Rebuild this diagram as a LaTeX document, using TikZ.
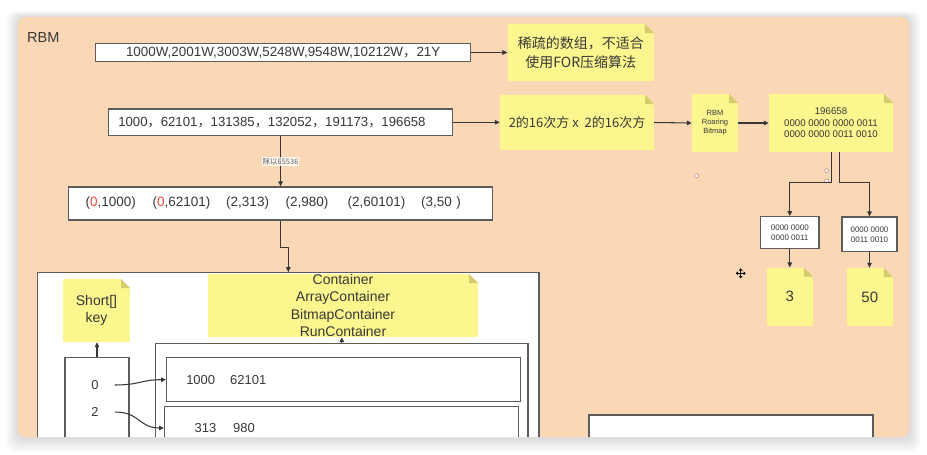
\documentclass[tikz,border=0pt]{standalone}
\usepackage{fontspec}
\setmainfont{Liberation Sans}
\newfontfamily\cjk{Noto Sans CJK SC}
\usetikzlibrary{arrows.meta,calc}
\definecolor{peach}{RGB}{251,216,181}
\definecolor{noteY}{RGB}{251,246,142}
\definecolor{foldY}{RGB}{214,203,110}
\definecolor{linec}{RGB}{92,92,92}
\definecolor{arrc}{RGB}{55,55,55}
\definecolor{txt}{RGB}{56,56,56}
\definecolor{redd}{RGB}{232,70,60}
\definecolor{handlec}{RGB}{196,138,138}
\newcommand\fsz[2]{\fontsize{#1}{#2}\selectfont}
\tikzset{
  box/.style={draw=linec, line width=1.1pt, fill=white, inner sep=0pt, text=txt},
  note/.style={fill=noteY, inner sep=0pt, text=txt, align=center,
    path picture={
      \fill[#1] ([xshift=-9pt]path picture bounding box.north east) -- (path picture bounding box.north east) -- ([yshift=-9pt]path picture bounding box.north east) -- cycle;
      \fill[foldY] ([xshift=-9pt]path picture bounding box.north east) -- ([xshift=-9pt,yshift=-9pt]path picture bounding box.north east) -- ([yshift=-9pt]path picture bounding box.north east) -- cycle;
    }},
  note/.default=peach,
  arr/.style={draw=arrc, line width=1.05pt, -{Triangle[length=5pt,width=4.5pt]}},
  lbl/.style={fill=white, fill opacity=0.85, text opacity=1, text=txt!80, inner sep=1pt, font=\cjk\fsz{7.5pt}{9pt}},
  handle/.style={circle, draw=handlec, fill=white, line width=0.6pt, minimum size=4pt, inner sep=0pt},
  curs/.style={line width=1.1pt, draw=black, {Triangle[length=2.2pt,width=3.6pt]}-{Triangle[length=2.2pt,width=3.6pt]}},
}
\begin{document}
\begin{tikzpicture}[x=1pt,y=-1pt]
\useasboundingbox (0,0) rectangle (927,455);
\fill[white] (0,0) rectangle (927,455);
\foreach \i in {1,...,12}{
  \fill[black,opacity=0.013,rounded corners=9pt] ({18-\i},{17-0.5*\i}) rectangle ({909+\i},{437+1.3*\i});
}
\fill[peach,rounded corners=7pt] (18,17) rectangle (909,437);
\begin{scope}
\clip[rounded corners=7pt] (18,17) rectangle (909,437);

\node[anchor=west, text=txt, inner sep=0pt, font=\fsz{14.5pt}{17pt}] (rbm) at (27,38) {RBM};

\node[box, minimum width=375pt, minimum height=18.4pt, font=\fsz{13.4pt}{16pt}] (b1) at (283.2,52.5) {1000W,2001W,3003W,5248W,9548W,10212W{\cjk ，}21Y};
\node[note, minimum width=146.3pt, minimum height=57pt, font=\cjk\fsz{14pt}{19pt}] (n1) at (580.8,52.5) {稀疏的数组，不适合\\使用FOR压缩算法};

\node[box, anchor=west, minimum height=26.7pt, inner xsep=9.7pt, text width=324.6pt, align=left, font=\fsz{13.2pt}{16pt}] (b2) at (108,122.3) {1000{\cjk ，}62101{\cjk ，}131385{\cjk ，}132052{\cjk ，}191173{\cjk ，}196658};
\node[note, minimum width=154pt, minimum height=55pt, font=\cjk\fsz{13pt}{16pt}] (n2) at (577,122.5) {2的16次方 x\ \ 2的16次方};
\node[note, minimum width=46pt, minimum height=58pt, font=\fsz{7.5pt}{9pt}] (n3) at (715,123) {RBM\\Roaring\\Bitmap};
\node[note, minimum width=124pt, minimum height=58pt, font=\fsz{9.7pt}{11.5pt}] (n4) at (831,123) {196658\\0000 0000 0000 0011\\0000 0000 0011 0010};

\node[box, align=center, minimum width=58.3pt, minimum height=32pt, font=\fsz{8pt}{10pt}] (b5) at (789.8,232.7) {0000 0000\\0000 0011};
\node[box, align=center, minimum width=55pt, minimum height=34.7pt, font=\fsz{8pt}{10pt}] (b6) at (869.5,234.3) {0000 0000\\0011 0010};
\node[note, minimum width=46.3pt, minimum height=58.3pt, font=\fsz{15pt}{18pt}] (n5) at (789.8,296.8) {3};
\node[note, minimum width=46.3pt, minimum height=58pt, font=\fsz{15pt}{18pt}] (n6) at (869.8,297) {50};

\node[handle] (h1) at (696.7,175.7) {};
\node[handle] (h2) at (826.7,170.7) {};
\node[handle] (h3) at (826.7,181) {};

\node[box, anchor=west, minimum height=33pt, inner xsep=16.7pt, text width=390.3pt, align=left, font=\fsz{13.5pt}{16pt}] (b3) at (68.3,203.5) {\makebox[67pt][l]{(\textcolor{redd}{0},1000)}\makebox[73.7pt][l]{(\textcolor{redd}{0},62101)}\makebox[59.3pt][l]{(2,313)}\makebox[62pt][l]{(2,980)}\makebox[73.7pt][l]{(2,60101)}(3,50 )};

\node[box, minimum width=501.3pt, minimum height=207.3pt] (C) at (288.35,376.35) {};
\node[note=white, minimum width=270pt, minimum height=63pt, font=\fsz{14pt}{17.3pt}] (cn) at (343,305.5) {Container\\ArrayContainer\\BitmapContainer\\RunContainer};
\node[note=white, minimum width=67pt, minimum height=63pt, font=\fsz{14pt}{16.5pt}] (sn) at (96.5,310.5) {Short[]\\key};
\node[box, minimum width=64pt, minimum height=122.3pt] (kb) at (97,418.85) {};
\node[box, minimum width=372.3pt, minimum height=136.7pt] (W) at (341.85,411.65) {};
\node[box, anchor=west, minimum height=44pt, inner xsep=19.7pt, text width=314.6pt, align=left, font=\fsz{13pt}{16pt}] (r1) at (166,379.7) {1000\hspace{15pt}62101};
\node[box, anchor=west, minimum height=42.6pt, inner xsep=30pt, text width=294pt, align=left, font=\fsz{13pt}{16pt}] (r2) at (164,428) {313\hspace{17pt}980};
\node[text=txt, inner sep=0pt, font=\fsz{13pt}{16pt}] (k0) at (95,385) {0};
\node[text=txt, inner sep=0pt, font=\fsz{13pt}{16pt}] (k2) at (95,412) {2};
\node[box, minimum width=284pt, minimum height=50pt] (br) at (731,440) {};

\draw[arr] (b1.east) -- (n1.west);
\draw[arr] (b2.east) -- (b2.east -| n2.west);
\draw[arr] (n2.east) -- (n3.west);
\draw[arr] (n3.east) -- (n4.west);
\draw[arr] ([xshift=0.7pt]n4.south) -- ++(0,30) -| (b5.north);
\draw[arr] ([xshift=8.3pt]n4.south) -- ++(0,30) -| (b6.north);
\draw[arr] (b5.south) -- (b5.south |- n5.north);
\draw[arr] (b6.south) -- (b6.south |- n6.north);
\draw[arr] (b2.south) -- node[lbl] (lab) {除以65536} (b2.south |- b3.north);
\draw[arr] (b3.south) -- ++(0,27) -| (C.north);
\draw[arr] (kb.north) -- (kb.north |- sn.south);
\draw[arr] (W.north) -- (W.north |- cn.south);
\draw[arr] ([xshift=16pt]k0.east) .. controls +(25,0) and +(-25,0) .. (r1.west);
\draw[arr] ([xshift=16pt]k2.east) .. controls +(25,0) and +(-25,0) .. (r2.west);

\draw[curs] (735.7,273.3) -- (745.7,273.3);
\draw[curs] (740.7,268.3) -- (740.7,278.3);
\end{scope}
\end{tikzpicture}
\end{document}
